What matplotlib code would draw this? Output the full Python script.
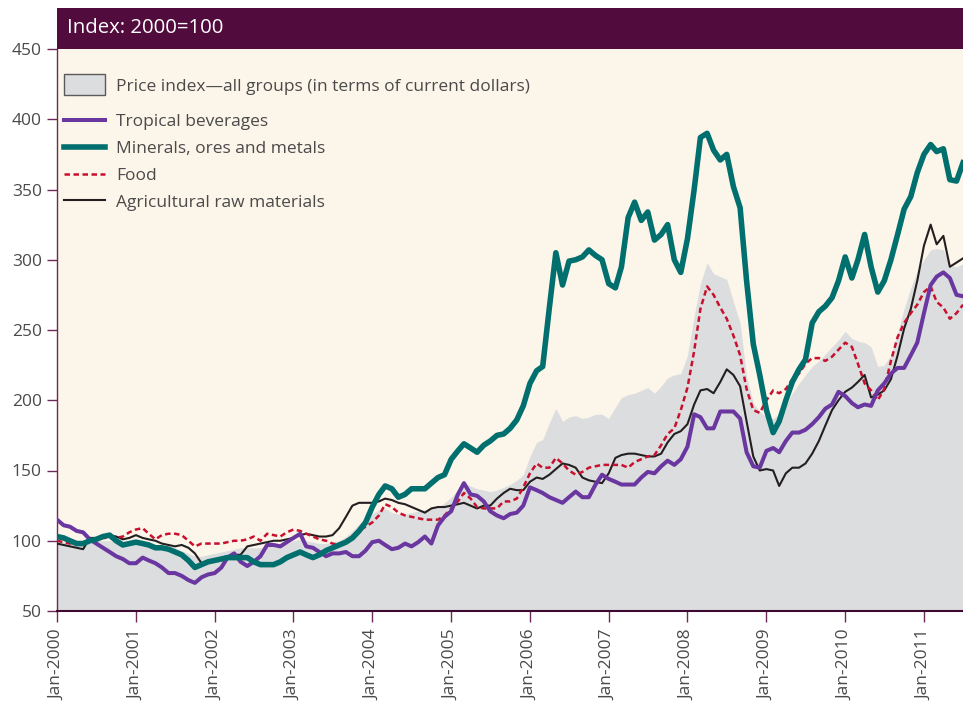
# commodity price indices, monthly, index 2000=100

import numpy as np
import pandas as pd
import matplotlib
matplotlib.use('Agg')
import matplotlib.pyplot as plt
import matplotlib.dates as mdates
from matplotlib.patches import Patch, Rectangle
from matplotlib.lines import Line2D

plt.rcParams['font.family'] = ['Open Sans', 'DejaVu Sans']

# months from Jan-2000 to Jul-2011
months = pd.date_range('2000-01-01', periods=139, freq='MS')

# price index - all groups (grey area)
all_groups = [
    100, 99, 99, 98, 98, 99, 100, 100, 100, 99, 99, 99,
    99, 99, 98, 97, 96, 96, 95, 93, 91, 89, 89, 90,
    91, 92, 93, 94, 95, 95, 95, 95, 96, 96, 97, 98,
    100, 101, 100, 99, 98, 98, 99, 100, 103, 107, 112, 116,
    119, 122, 123, 120, 119, 119, 120, 121, 122, 123, 124, 127,
    131, 136, 141, 139, 137, 136, 135, 136, 138, 140, 143, 147,
    160, 170, 172, 184, 194, 185, 188, 189, 187, 188, 190, 190,
    187, 195, 202, 204, 205, 207, 209, 205, 210, 216, 218, 219,
    232, 260, 283, 298, 290, 288, 286, 270, 255, 217, 198, 192,
    188, 187, 190, 197, 205, 212, 218, 224, 228, 233, 238, 243,
    249, 244, 242, 241, 238, 224, 225, 232, 248, 265, 280, 292,
    300, 307, 308, 307, 296, 295, 297,
]

tropical = [
    115, 111, 110, 107, 106, 101, 98, 95, 92, 89, 87, 84,
    84, 88, 86, 84, 81, 77, 77, 75, 72, 70, 74, 76,
    77, 81, 88, 91, 85, 82, 85, 89, 97, 97, 96, 99,
    102, 105, 96, 95, 92, 89, 91, 91, 92, 89, 89, 93,
    99, 100, 97, 94, 95, 98, 96, 99, 103, 98, 111, 117,
    121, 133, 141, 133, 132, 128, 121, 118, 116, 119, 120, 125,
    138, 136, 134, 131, 129, 127, 131, 135, 131, 131, 140, 147,
    144, 142, 140, 140, 140, 145, 149, 148, 153, 157, 154, 158,
    167, 190, 188, 180, 180, 192, 192, 192, 187, 163, 153, 152,
    164, 166, 163, 171, 177, 177, 179, 183, 188, 194, 197, 206,
    203, 198, 195, 197, 196, 207, 212, 219, 223, 223, 232, 241,
    262, 282, 288, 291, 287, 275, 274,
]

minerals = [
    103, 102, 100, 98, 98, 100, 101, 103, 104, 100, 97, 98,
    99, 98, 97, 95, 95, 94, 92, 90, 86, 81, 83, 85,
    86, 87, 88, 88, 88, 88, 85, 83, 83, 83, 85, 88,
    90, 92, 90, 88, 90, 93, 95, 97, 99, 102, 107, 113,
    124, 133, 139, 137, 131, 133, 137, 137, 137, 141, 145, 147,
    158, 164, 169, 166, 163, 168, 171, 175, 176, 180, 186, 196,
    212, 221, 224, 266, 305, 282, 299, 300, 302, 307, 303, 300,
    283, 280, 295, 330, 341, 328, 334, 314, 318, 325, 300, 291,
    315, 350, 387, 390, 378, 371, 375, 352, 337, 285, 240, 218,
    193, 177, 185, 200, 213, 222, 229, 255, 263, 267, 273, 285,
    302, 287, 300, 318, 295, 277, 285, 300, 318, 336, 345, 362,
    375, 382, 377, 379, 357, 356, 369,
]

food = [
    100, 99, 98, 98, 99, 99, 101, 102, 102, 102, 103, 106,
    108, 109, 105, 101, 104, 105, 105, 104, 100, 96, 98, 98,
    98, 98, 99, 100, 100, 101, 103, 100, 105, 104, 103, 106,
    108, 107, 105, 103, 101, 100, 98, 97, 100, 103, 107, 110,
    113, 118, 126, 124, 120, 118, 117, 116, 115, 115, 115, 118,
    123, 128, 134, 130, 124, 123, 123, 123, 128, 128, 130, 138,
    148, 155, 152, 152, 159, 155, 150, 147, 149, 152, 153, 154,
    154, 154, 154, 152, 156, 158, 160, 161, 168, 176, 180, 193,
    209, 235, 265, 281, 275, 266, 258, 246, 232, 208, 193, 191,
    200, 207, 205, 208, 215, 219, 226, 230, 230, 228, 231, 236,
    241, 238, 226, 212, 207, 200, 208, 228, 245, 255, 262, 268,
    277, 281, 270, 266, 258, 262, 268,
]

agri = [
    98, 97, 96, 95, 94, 102, 102, 102, 104, 103, 101, 102,
    104, 102, 101, 100, 98, 97, 96, 97, 95, 91, 84, 85,
    86, 88, 89, 90, 90, 96, 97, 98, 99, 100, 100, 101,
    102, 104, 105, 104, 103, 103, 104, 109, 117, 125, 127, 127,
    127, 128, 130, 129, 127, 126, 124, 122, 120, 123, 124, 124,
    125, 126, 127, 125, 123, 125, 125, 130, 134, 137, 136, 136,
    142, 145, 144, 147, 151, 155, 154, 152, 145, 143, 142, 141,
    148, 159, 161, 162, 162, 161, 160, 160, 162, 170, 176, 178,
    183, 197, 207, 208, 205, 213, 222, 218, 210, 185, 160, 150,
    151, 150, 139, 148, 152, 152, 155, 162, 171, 182, 193, 200,
    206, 209, 213, 218, 202, 204, 207, 215, 232, 251, 265, 285,
    310, 325, 311, 317, 295, 298, 301,
]

legend_labels = ['Price index\u2014all groups (in terms of current dollars)',
                 'Tropical beverages', 'Minerals, ores and metals', 'Food',
                 'Agricultural raw materials']

# colours
cream = '#FCF5E9'
grey = '#DCDDDF'
maroon = '#520B3D'
purple = '#6A36A0'
teal = '#006F6E'
red = '#C8102E'
black = '#231F20'
axis_col = '#6B2A5A'
text_col = '#4A4A4A'

fig = plt.figure(figsize=(9.63, 7.10), dpi=100)
ax = fig.add_axes([57 / 963, 99 / 710, 906 / 963, 562 / 710])
ax.set_facecolor(cream)

ax.fill_between(months, 50, all_groups, color=grey, lw=0, zorder=1)
ax.plot(months, agri, color=black, lw=1.5, zorder=3)
ax.plot(months, food, color=red, lw=1.8, dashes=(2.2, 1.4), zorder=4)
ax.plot(months, tropical, color=purple, lw=2.9, zorder=5)
ax.plot(months, minerals, color=teal, lw=4.0, zorder=6)

ax.set_ylim(50, 450)
ax.set_yticks(np.arange(50, 451, 50))
ax.set_xlim(months[0], months[-1])
ax.xaxis.set_major_locator(mdates.YearLocator())
ax.xaxis.set_major_formatter(mdates.DateFormatter('%b-%Y'))

for s in ['top', 'right']:
    ax.spines[s].set_visible(False)
ax.spines['left'].set_color(axis_col)
ax.spines['left'].set_linewidth(1.0)
ax.spines['bottom'].set_color('#3E0A30')
ax.spines['bottom'].set_linewidth(1.5)

ax.tick_params(axis='y', length=7, width=1, color=axis_col, pad=4,
               labelsize=12.5, labelcolor=text_col)
ax.tick_params(axis='x', length=8, width=1, color=axis_col, pad=5,
               labelsize=12.5, labelcolor=text_col, labelrotation=90)

# header bar
fig.patches.append(Rectangle((57 / 963, 661 / 710), 906 / 963, 41 / 710,
                             transform=fig.transFigure, facecolor=maroon,
                             edgecolor='none'))
fig.text(67 / 963, 682 / 710, 'Index: 2000=100', color='white', fontsize=14.7,
         va='center', ha='left')

# legend: area patch on its own, then the lines
h1 = [Patch(facecolor=grey, edgecolor='#5A5A5A', lw=1)]
leg1 = ax.legend(h1, legend_labels[:1], loc='upper left',
                 bbox_to_anchor=(0.008, 0.955), frameon=False, fontsize=12.5,
                 handlelength=2.35, handleheight=1.5, handletextpad=0.65,
                 borderpad=0, borderaxespad=0, labelcolor=text_col)
ax.add_artist(leg1)
h2 = [Line2D([], [], color=purple, lw=2.9),
      Line2D([], [], color=teal, lw=4.0),
      Line2D([], [], color=red, lw=1.8, dashes=(2.2, 1.4)),
      Line2D([], [], color=black, lw=1.5)]
ax.legend(h2, legend_labels[1:], loc='upper left',
          bbox_to_anchor=(0.008, 0.885), frameon=False, fontsize=12.5,
          handlelength=2.35, handletextpad=0.65, labelspacing=0.62,
          borderpad=0, borderaxespad=0, labelcolor=text_col)

fig.savefig('out.png', dpi=100)
